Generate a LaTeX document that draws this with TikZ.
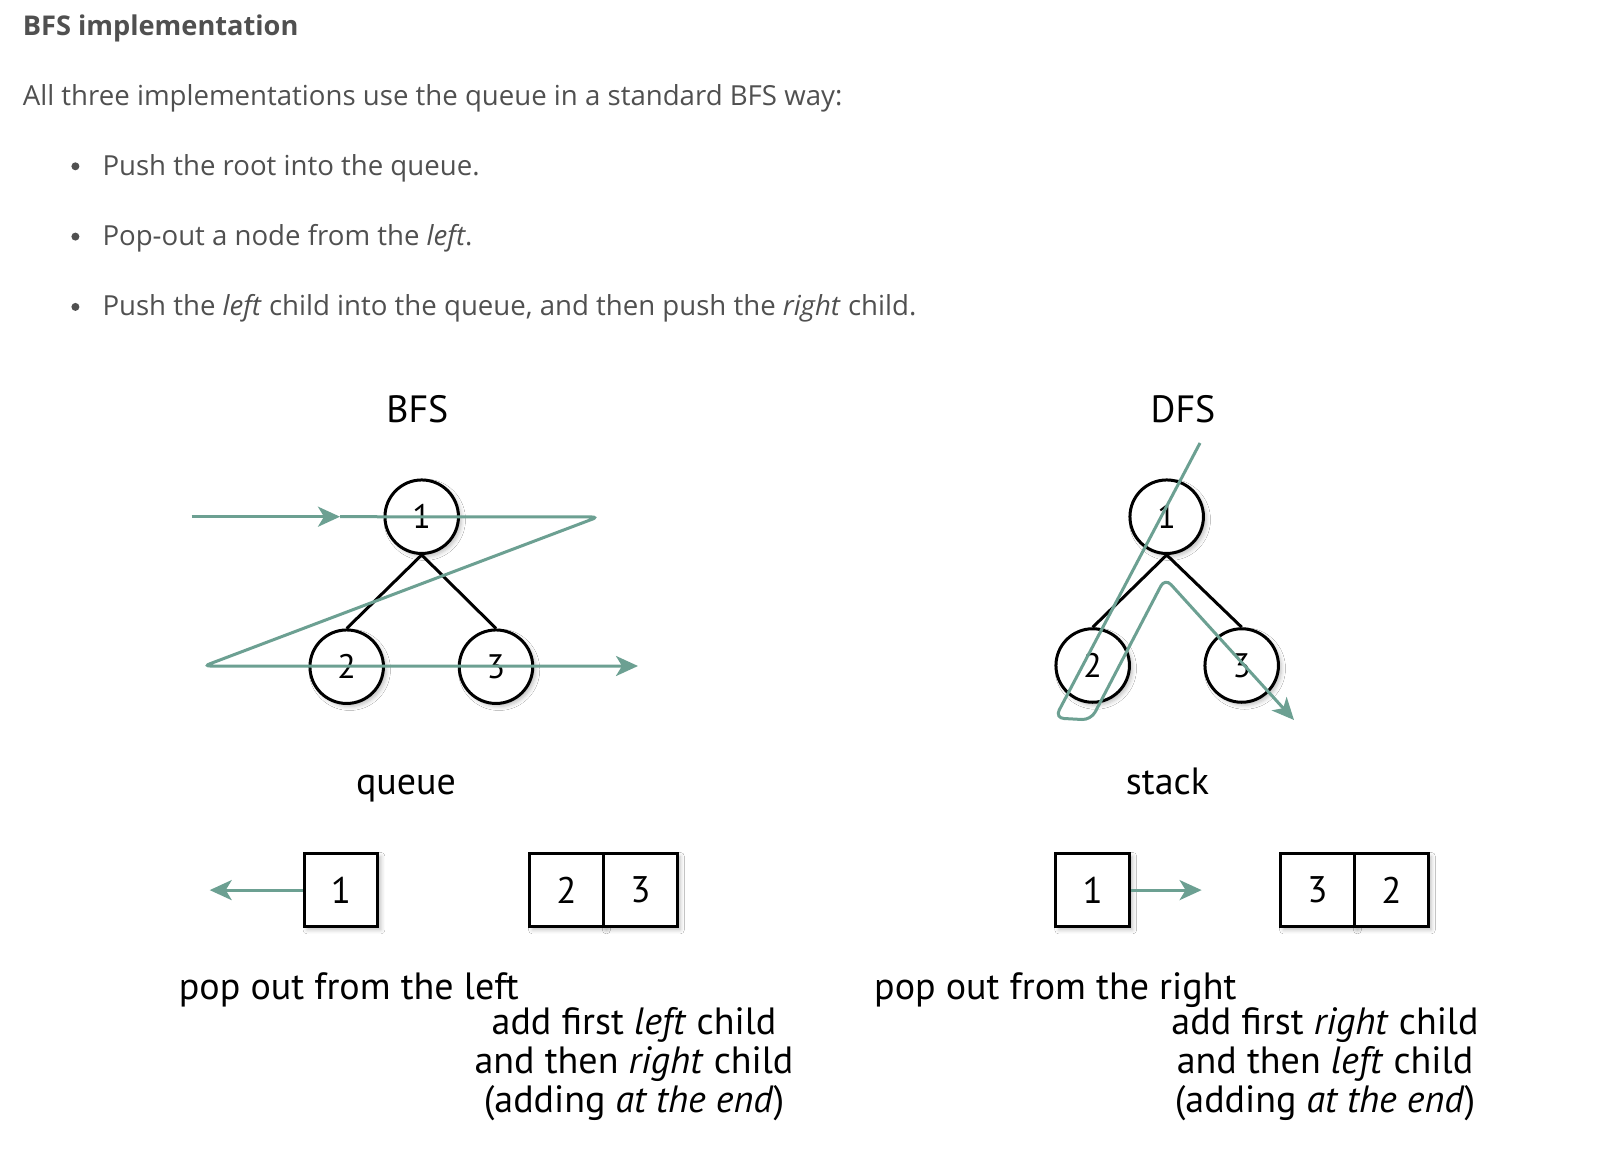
\documentclass[tikz,border=0pt]{standalone}
\usepackage{fontspec}
\setmainfont{Open Sans}
\newfontfamily\comicf{PT Sans}
\usetikzlibrary{arrows.meta,shadows.blur}
\definecolor{tealg}{RGB}{108,160,146}
\definecolor{txtgray}{RGB}{80,80,80}
\begin{document}
\begin{tikzpicture}[x=1pt,y=-1pt,
  body/.style={anchor=base west, inner sep=0pt, text=txtgray, font=\fontsize{27.6}{30}\selectfont},
  head/.style={anchor=base west, inner sep=0pt, text=txtgray, font=\fontsize{27.2}{30}\selectfont\bfseries},
  bdot/.style={circle, fill=txtgray, inner sep=0pt, minimum size=8pt},
  lbl/.style={inner sep=0pt, font=\comicf\fontsize{38}{40}\selectfont},
  shad/.style={blur shadow={shadow xshift=3pt, shadow yshift=-3pt, shadow blur radius=4pt, shadow opacity=25}},
  tnode/.style={circle, draw, line width=3pt, fill=white, minimum size=73.5pt, inner sep=0pt, font=\comicf\fontsize{34}{34}\selectfont, shad},
  cell/.style={draw, line width=3pt, fill=white, minimum width=73.9pt, minimum height=73.5pt, inner sep=0pt, font=\comicf\fontsize{37}{37}\selectfont, shad},
  treeline/.style={line width=3pt, black},
  flow/.style={draw=tealg, line width=3pt},
  tip/.style={-{Stealth[length=22pt,width=20pt,inset=6pt]}}
]
\fill[white] (0,0) rectangle (1620,1170);
\useasboundingbox (0,0) rectangle (1620,1170);

% header text
\node[head] (h) at (22.7,35) {BFS implementation};
\node[body] (intro) at (22.7,105) {All three implementations use the queue in a standard BFS way:};
\node[bdot] (d1b) at (75.4,166.3) {};
\node[bdot] (d2b) at (75.4,236.6) {};
\node[bdot] (d3b) at (75.4,306.9) {};
\node[body] (bl1) at (102.3,175) {Push the root into the queue.};
\node[body] (bl2) at (102.3,245) {Pop-out a node from the \textit{left}.};
\node[body] (bl3) at (102.3,315) {Push the \textit{left} child into the queue, and then push the \textit{right} child.};

% titles
\node[lbl] (tb) at (417.4,409) {BFS};
\node[lbl] (td) at (1183,409) {DFS};
\node[lbl, anchor=base] (tq) at (406,794) {queue};
\node[lbl, anchor=base] (ts) at (1167.5,794) {stack};

% BFS tree
\node[tnode] (b1) at (421.7,516.7) {1};
\node[tnode] (b2) at (346.7,666.7) {2};
\node[tnode] (b3) at (496,666.7) {3};
\draw[treeline] (b1.south) -- (b2.north);
\draw[treeline] (b1.south) -- (b3.north);

% DFS tree
\node[tnode] (e1) at (1166.7,516.7) {1};
\node[tnode] (e2) at (1092.7,665.5) {2};
\node[tnode] (e3) at (1241.7,665.5) {3};
\draw[treeline] (e1.south) -- (e2.north);
\draw[treeline] (e1.south) -- (e3.north);

% BFS traversal
\coordinate (bs) at (191.7,516.7);
\coordinate (bm) at (340,516.7);
\coordinate (bt1) at (598,517);
\coordinate (bt2) at (204,666);
\coordinate (be) at (638,666);
\draw[flow, tip] (bs) -- (bm);
\draw[flow, tip, rounded corners=6pt] (bm) -- (bt1) -- (bt2) -- (be);

% DFS traversal
\coordinate (ds) at (1200,443);
\coordinate (dc1) at (1055,718);
\coordinate (dc2) at (1091,720);
\coordinate (dc3) at (1165,578);
\coordinate (de) at (1294,720);
\draw[flow, tip, rounded corners=9pt] (ds) -- (dc1) -- (dc2) -- (dc3) -- (de);

% queue cells
\node[cell] (q1) at (341,890.1) {1};
\node[cell] (q2) at (566.45,890.1) {2};
\node[cell] (q3) at (640.35,890.1) {3};
\coordinate (qout) at (209.7,890.1);
\draw[flow, tip] (q1.west) -- (qout);

% stack cells
\node[cell] (s1) at (1092.7,890.1) {1};
\node[cell] (s3) at (1317.45,890.1) {3};
\node[cell] (s2) at (1391.35,890.1) {2};
\coordinate (sout) at (1201.6,890.1);
\draw[flow, tip] (s1.east) -- (sout);

% captions
\node[lbl, anchor=base west] (pl) at (178.7,999) {pop out from the left};
\node[lbl, anchor=base] (l1) at (634,1034) {add first \textit{left} child};
\node[lbl, anchor=base] (l2) at (634,1073.5) {and then \textit{right} child};
\node[lbl, anchor=base] (l3) at (634,1112.5) {(adding \textit{at the end})};
\node[lbl, anchor=base west] (pr) at (874,999) {pop out from the right};
\node[lbl, anchor=base] (r1) at (1325,1034) {add first \textit{right} child};
\node[lbl, anchor=base] (r2) at (1325,1073.5) {and then \textit{left} child};
\node[lbl, anchor=base] (r3) at (1325,1112.5) {(adding \textit{at the end})};
\end{tikzpicture}
\end{document}
